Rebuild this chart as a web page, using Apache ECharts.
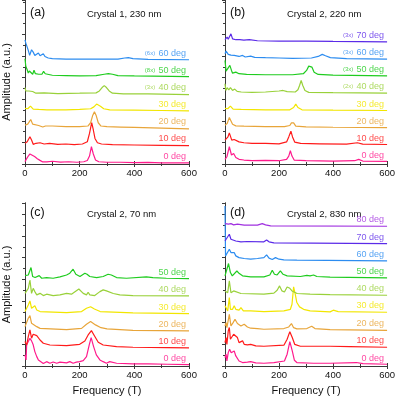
<!DOCTYPE html>
<html>
<head>
<meta charset="utf-8">
<script src="https://cdn.jsdelivr.net/npm/echarts@6/dist/echarts.min.js"></script>
<style>
html,body{margin:0;padding:0;background:#fff}
#chart{width:398px;height:397px}
</style>
</head>
<body>
<div id="chart"></div>
<script>
// angle colours, shared by all panels
var angleColors = ['#ff1a8c', '#ff1a1a', '#e8a53a', '#f2e600', '#99d13a', '#1fcc1f', '#2c8cf0', '#5b2be8', '#a030e0'];
var angleNames = ['0 deg', '10 deg', '20 deg', '30 deg', '40 deg', '50 deg', '60 deg', '70 deg', '80 deg'];
var xTicks = [0, 200, 400, 600];

// (a) Crystal 1, 230 nm   -- [frequency T, amplitude above own baseline]
var a0 = [[0,0.06],[5,0.2],[12,0.38],[18,0.5],[25,0.44],[35,0.35],[45,0.23],[55,0.13],[65,0.04],[80,0.04],[100,0.08],[130,0.03],[160,0.05],[190,0.02],[215,0.05],[228,0.12],[236,0.38],[243,0.92],[250,0.5],[258,0.15],[270,0.05],[300,0.02],[350,0.02],[400,0],[450,0.01],[500,-0.02],[600,-0.02]];
var a1 = [[0,0.1],[8,0.19],[18,0.48],[24,0.29],[30,0.04],[40,0.1],[55,0.13],[70,0.06],[90,0.1],[120,0.04],[150,0.06],[180,0.02],[210,0.06],[228,0.19],[236,0.67],[244,1.29],[250,0.87],[256,0.38],[265,0.13],[280,0.06],[320,0.02],[400,0],[500,-0.02],[600,-0.04]];
var a2 = [[0,0.15],[10,0.21],[21,0.48],[28,0.21],[35,0.12],[50,0.13],[65,0.04],[75,0.1],[100,0.1],[150,0.06],[200,0.06],[230,0.1],[240,0.29],[248,0.73],[254,0.92],[260,0.73],[268,0.29],[278,0.1],[300,0.06],[350,0.04],[400,0.02],[500,-0.02],[600,-0.06]];
var a3 = [[0,0.1],[10,0.08],[20,0.23],[30,0.06],[50,0.04],[80,0.02],[150,0.02],[200,0.04],[240,0.08],[252,0.19],[262,0.35],[268,0.38],[276,0.23],[288,0.08],[310,0.02],[400,0],[500,-0.02],[600,-0.04]];
var a4 = [[0,0.35],[3,0.15],[8,0.04],[14,0.15],[20,0.04],[28,0.12],[40,0.02],[70,0.04],[120,0],[200,0.02],[260,0.04],[272,0.15],[282,0.35],[290,0.46],[298,0.35],[308,0.15],[320,0.02],[360,-0.02],[450,-0.02],[600,-0.06]];
var a5 = [[0,1.02],[3,0.58],[8,0.38],[12,0.19],[16,0.31],[22,0.25],[28,0.12],[33,0.35],[38,0.15],[45,0.25],[50,0.12],[56,0.23],[62,0.12],[68,0.29],[74,0.15],[80,0.06],[100,0.06],[150,0.04],[200,0.02],[260,0.04],[290,0.12],[305,0.15],[320,0.12],[340,0.04],[400,0.02],[600,-0.02]];
var a6 = [[0,1.13],[3,0.94],[8,0.71],[12,0.52],[17,0.23],[24,0.56],[30,0.42],[36,0.23],[43,0.33],[49,0.37],[55,0.21],[61,0.23],[67,0.33],[73,0.17],[85,0.08],[100,0.04],[150,0.02],[250,0.02],[340,0.02],[365,0.08],[378,0.1],[395,0.04],[450,0],[600,-0.02]];
var offsetsA = [0.08, 1.1, 2.1, 3.12, 4.08, 5.08, 6.06];
var gainsA = ['', '', '', '', '(3x)', '(8x)', '(6x)'];

// (b) Crystal 2, 220 nm
var b0 = [[0,0.1],[7,0.25],[11,0.35],[16,0.83],[24,0.35],[32,0.44],[40,0.21],[52,0.1],[70,0.06],[100,0.02],[150,0.04],[200,0.02],[228,0.1],[236,0.29],[242,0.6],[248,0.29],[256,0.06],[300,0.02],[400,0],[480,0.02],[495,0.1],[510,0],[600,-0.02]];
var b1 = [[0,0.23],[7,0.23],[11,0.42],[16,0.65],[25,0.23],[34,0.27],[52,0.13],[70,0.08],[100,0.04],[150,0.04],[200,0.02],[228,0.13],[236,0.42],[244,0.75],[250,0.42],[258,0.12],[280,0.04],[350,0.02],[450,0],[490,0.08],[510,0],[600,-0.02]];
var b2 = [[0,0.12],[8,0.21],[16,0.56],[28,0.17],[40,0.08],[70,0.06],[150,0.04],[220,0.04],[240,0.1],[246,0.25],[250,0.17],[254,0.25],[262,0.06],[300,0.02],[400,0],[600,-0.02]];
var b3 = [[0,0.1],[10,0.08],[20,0.23],[30,0.06],[60,0.04],[150,0.02],[240,0.02],[254,0.15],[262,0.35],[270,0.15],[285,0.02],[400,0],[600,-0.02]];
var b4 = [[0,0.52],[3,0.13],[8,0.29],[14,0.17],[20,0.29],[28,0.13],[36,0.21],[45,0.08],[60,0.04],[100,0.02],[150,0.04],[200,0.1],[215,0.13],[230,0.06],[260,0.04],[270,0.17],[276,0.42],[282,0.71],[288,0.42],[296,0.13],[310,0.02],[400,0],[600,-0.02]];
var b5 = [[0,0.87],[4,0.25],[8,0.29],[18,0.58],[24,0.29],[28,0.13],[40,0.19],[52,0.1],[80,0.06],[150,0.04],[250,0.04],[290,0.1],[302,0.29],[310,0.54],[316,0.58],[322,0.48],[330,0.19],[345,0.06],[400,0.02],[600,-0.02]];
var b6 = [[0,0.29],[4,0.44],[8,0.38],[12,0.25],[17,0.33],[22,0.21],[28,0.29],[34,0.19],[40,0.25],[52,0.13],[65,0.19],[75,0.1],[95,0.15],[110,0.08],[150,0.06],[200,0.04],[250,0.02],[320,0.04],[345,0.13],[360,0.25],[372,0.17],[390,0.06],[450,0],[600,-0.02]];
var b7 = [[0,0.1],[4,0.21],[8,0.25],[12,0.13],[16,0.21],[22,0.44],[28,0.15],[34,0.21],[40,0.1],[46,0.17],[55,0.1],[70,0.08],[90,0.1],[120,0.04],[200,0.02],[300,0.02],[400,0],[600,-0.02]];
var offsetsB = [0.17, 1.15, 2.13, 3.12, 4.13, 5.13, 6.1, 7.1];
var gainsB = ['', '', '', '', '(2x)', '(3x)', '(3x)', '(3x)'];

// (c) Crystal 2, 70 nm
var c0 = [[0,0.54],[4,0.25],[6,1.12],[12,1.31],[18,1.5],[24,1.35],[30,1.12],[36,0.73],[43,0.44],[49,0.25],[55,0.15],[67,0.04],[79,0.15],[91,0.06],[103,0.13],[116,0.06],[128,0.12],[152,0.08],[164,0.15],[176,0.06],[188,0.12],[200,0.15],[213,0.21],[225,0.44],[235,1.12],[242,1.54],[251,1.02],[261,0.54],[274,0.25],[286,0.15],[298,0.06],[310,0.15],[335,0.06],[395,0.02],[450,0.02],[520,0],[600,-0.02]];
var c1 = [[0,0.35],[6,0.15],[12,0.63],[18,1.02],[24,0.54],[30,0.77],[36,0.83],[43,0.69],[55,0.44],[67,0.25],[91,0.15],[152,0.12],[200,0.19],[219,0.38],[231,0.73],[243,0.98],[256,0.63],[268,0.31],[286,0.15],[335,0.06],[395,0.02],[520,0],[600,-0.02]];
var c2 = [[0,0.23],[12,0.71],[18,0.87],[24,0.42],[30,0.33],[43,0.23],[55,0.13],[152,0.06],[207,0.13],[225,0.37],[240,0.52],[258,0.33],[278,0.17],[300,0.1],[395,0.02],[600,-0.02]];
var c3 = [[0,0.1],[12,0.48],[18,0.71],[24,0.29],[30,0.38],[36,0.44],[43,0.19],[55,0.1],[152,0.04],[207,0.1],[225,0.29],[240,0.38],[254,0.25],[275,0.1],[395,0.02],[600,-0.02]];
var c4 = [[0,0.13],[12,0.42],[18,0.9],[24,0.13],[30,0.42],[36,0.23],[43,0.04],[55,0.13],[67,0],[79,0.08],[103,0],[128,0.04],[152,0.13],[170,0.08],[197,0.38],[213,0.13],[225,0.04],[231,0.19],[237,0.04],[255,0],[274,0.23],[286,0.33],[298,0.27],[323,0.12],[347,0.04],[395,0],[600,-0.02]];
var c5 = [[0,0.15],[12,0.19],[22,0.62],[28,0.1],[37,0.04],[52,0.15],[61,0],[79,0.04],[103,0],[128,0.08],[152,0.19],[164,0.29],[176,0.52],[186,0.23],[201,0.1],[219,0.29],[227,0.23],[237,0.1],[262,0.04],[286,0.1],[304,0.23],[316,0.19],[335,0.04],[371,0],[444,0.08],[468,0.04],[517,0],[600,-0.02]];
var offsetsC = [0.1, 1.06, 2.04, 3.04, 4.06, 5.06];
var gainsC = ['', '', '', '', '', ''];

// (d) Crystal 2, 830 nm
var d0 = [[0,0.38],[4,0.58],[7,0.19],[12,0.67],[17,0.87],[23,0.67],[34,0.77],[40,0.48],[52,0.19],[59,0.23],[65,0.1],[71,0.19],[83,0.12],[95,0.15],[114,0.08],[144,0.06],[181,0.1],[220,0.19],[230,0.58],[240,1.31],[249,0.77],[257,0.23],[266,0.1],[328,0.06],[389,0.06],[486,0.1],[511,0.04],[600,0]];
var d1 = [[0,0.25],[4,0.54],[7,0.15],[12,0.92],[16,1.12],[20,0.44],[24,0.54],[32,0.73],[37,0.83],[46,0.54],[52,0.25],[59,0.15],[65,0.35],[71,0.15],[83,0.12],[95,0.15],[114,0.06],[144,0.04],[218,0.1],[230,0.44],[240,0.88],[249,0.54],[258,0.15],[279,0.04],[389,0.04],[462,0.02],[600,-0.02]];
var d2 = [[0,0.23],[4,0.42],[7,0.13],[16,0.9],[22,0.23],[30,0.42],[37,0.62],[46,0.37],[59,0.23],[71,0.33],[83,0.17],[95,0.1],[120,0.08],[144,0.04],[218,0.08],[236,0.17],[246,0.37],[254,0.13],[266,0.06],[303,0.08],[321,0.21],[333,0.08],[389,0.02],[600,-0.02]];
var d3 = [[0,0.35],[4,0.25],[10,0.06],[16,0.83],[20,0.15],[28,0.15],[34,0.35],[40,0.15],[52,0.1],[59,0.25],[68,0.06],[95,0.06],[144,0.02],[218,0.06],[242,0.15],[248,0.44],[254,1.44],[260,1.02],[266,0.54],[276,0.29],[291,0.15],[315,0.06],[389,0],[401,0.1],[419,0.02],[600,-0.02]];
var d4 = [[0,0.23],[4,0.33],[10,0.13],[16,0.81],[22,0.13],[32,0.23],[37,0.13],[59,0.08],[144,0.04],[181,0.1],[193,0.27],[202,0.52],[211,0.23],[220,0.17],[230,0.46],[240,0.38],[248,0.23],[267,0.08],[315,0.04],[389,0.02],[600,-0.02]];
var d5 = [[0,0.1],[7,0.19],[13,0.81],[20,0.29],[27,0.1],[34,0.19],[44,0.38],[53,0.23],[65,0.1],[95,0.04],[144,0.04],[166,0.15],[175,0.42],[183,0.19],[193,0.15],[205,0.38],[215,0.19],[230,0.1],[279,0.06],[303,0.13],[315,0.1],[328,0.15],[340,0.06],[389,0.02],[600,-0.02]];
var d6 = [[0,3.13],[2,0.25],[7,0.25],[16,0.63],[22,0.44],[28,0.54],[34,0.44],[40,0.25],[52,0.15],[71,0.1],[95,0.06],[120,0.1],[144,0.15],[154,0.31],[163,0.12],[175,0.04],[187,0.15],[193,0.19],[200,0.06],[218,0.02],[266,0],[600,-0.04]];
var d7 = [[0,0.13],[7,0.17],[16,0.52],[22,0.23],[28,0.13],[40,0.13],[59,0.08],[83,0.1],[144,0.08],[154,0.19],[163,0.08],[181,0.02],[600,-0.02]];
var d8 = [[0,0.13],[7,0.19],[13,0.1],[22,0.13],[32,0.06],[46,0.1],[71,0.04],[120,0.04],[138,0.13],[150,0.06],[169,0],[600,-0.02]];
var offsetsD = [0.1, 1.1, 2.08, 3.12, 4.1, 5.1, 6.1, 7.08, 8.08];
var gainsD = ['', '', '', '', '', '', '', '', ''];

var panels = [
  { letter: '(a)', title: 'Crystal 1, 230 nm', traces: [a0, a1, a2, a3, a4, a5, a6], offsets: offsetsA, gains: gainsA },
  { letter: '(b)', title: 'Crystal 2, 220 nm', traces: [b0, b1, b2, b3, b4, b5, b6, b7], offsets: offsetsB, gains: gainsB },
  { letter: '(c)', title: 'Crystal 2, 70 nm', traces: [c0, c1, c2, c3, c4, c5], offsets: offsetsC, gains: gainsC },
  { letter: '(d)', title: 'Crystal 2, 830 nm', traces: [d0, d1, d2, d3, d4, d5, d6, d7, d8], offsets: offsetsD, gains: gainsD }
];

var FONT = '"Liberation Sans", Arial, sans-serif';
var chart = echarts.init(document.getElementById('chart'));

var boxes = [
  { left: 25, top: -1, width: 164, height: 165, ymax: 9.5 },
  { left: 225, top: -1, width: 164, height: 165, ymax: 9.5 },
  { left: 25, top: 203, width: 164, height: 163, ymax: 9.4 },
  { left: 225, top: 203, width: 164, height: 163, ymax: 9.4 }
];

var grid = [], xAxis = [], yAxis = [], series = [], graphic = [];
var lineCol = '#3a3a3a';

boxes.forEach(function (b, p) {
  grid.push({ left: b.left, top: b.top, width: b.width, height: b.height });
  var bottomRow = p >= 2;
  // bottom x axis
  xAxis.push({
    gridIndex: p, type: 'value', position: 'bottom', min: 0, max: 600, interval: 200,
    name: bottomRow ? 'Frequency (T)' : '', nameLocation: 'middle', nameGap: 19,
    nameTextStyle: { fontFamily: FONT, fontSize: 11, color: '#111' },
    axisLine: { show: true, lineStyle: { color: lineCol, width: 1 } },
    axisTick: { show: true, inside: true, length: 3, lineStyle: { color: lineCol } },
    minorTick: { show: true, splitNumber: 2, length: 2, lineStyle: { color: lineCol } },
    axisLabel: { show: true, fontFamily: FONT, fontSize: 9.5, color: '#111', margin: 4,
      formatter: function (v) { return xTicks.indexOf(v) >= 0 ? String(v) : ''; } },
    splitLine: { show: false }
  });
  // top x axis (frame)
  xAxis.push({
    gridIndex: p, type: 'value', position: 'top', min: 0, max: 600, interval: 200,
    axisLine: { show: true, lineStyle: { color: lineCol, width: 1 } },
    axisTick: { show: true, inside: true, length: 3, lineStyle: { color: lineCol } },
    minorTick: { show: true, splitNumber: 2, length: 2, lineStyle: { color: lineCol } },
    axisLabel: { show: false }, splitLine: { show: false }
  });
  var leftCol = p % 2 === 0;
  yAxis.push({
    gridIndex: p, type: 'value', position: 'left', min: 0, max: b.ymax, interval: 1.25,
    name: leftCol ? 'Amplitude (a.u.)' : '', nameLocation: 'middle', nameGap: 13,
    nameTextStyle: { fontFamily: FONT, fontSize: 11, color: '#111' },
    axisLine: { show: true, lineStyle: { color: lineCol, width: 1 } },
    axisTick: { show: true, inside: false, length: 3, lineStyle: { color: lineCol } },
    axisLabel: { show: false }, splitLine: { show: false }
  });
  yAxis.push({
    gridIndex: p, type: 'value', position: 'right', min: 0, max: b.ymax, interval: 1.25,
    axisLine: { show: true, lineStyle: { color: lineCol, width: 1 } },
    axisTick: { show: true, inside: true, length: 3, lineStyle: { color: lineCol } },
    minorTick: { show: true, splitNumber: 2, length: 2, lineStyle: { color: lineCol } },
    axisLabel: { show: false }, splitLine: { show: false }
  });

  var pan = panels[p];
  pan.traces.forEach(function (tr, i) {
    var off = pan.offsets[i];
    series.push({
      type: 'line', xAxisIndex: p * 2, yAxisIndex: p * 2,
      showSymbol: false, symbol: 'none', silent: true,
      lineStyle: { width: 1.2, color: angleColors[i] },
      data: tr.map(function (pt) { return [pt[0], off + pt[1]]; }),
      z: 2 + i
    });
  });
  // trace labels at the right end of each trace
  series.push({
    type: 'scatter', xAxisIndex: p * 2, yAxisIndex: p * 2, symbolSize: 0, silent: true, z: 20,
    data: pan.offsets.map(function (off, i) {
      var g = pan.gains[i];
      return {
        value: [600, off],
        label: {
          show: true, position: 'left', distance: 3, offset: [0, -6],
          color: angleColors[i], fontFamily: FONT,
          formatter: g ? '{s|' + g + '} {n|' + angleNames[i] + '}' : '{n|' + angleNames[i] + '}',
          rich: { s: { fontSize: 6, fontFamily: FONT }, n: { fontSize: 9, fontFamily: FONT } }
        }
      };
    })
  });

  graphic.push({ type: 'text', left: b.left + 5, top: (p < 2 ? 6 : 206),
    style: { text: pan.letter, font: '12.5px ' + FONT, fill: '#111' } });
  graphic.push({ type: 'text', left: b.left + 62, top: (p < 2 ? 9 : 209),
    style: { text: pan.title, font: '9.5px ' + FONT, fill: '#111' } });
});

chart.setOption({
  animation: false,
  backgroundColor: '#fff',
  grid: grid, xAxis: xAxis, yAxis: yAxis, series: series, graphic: graphic
});
</script>
</body>
</html>
